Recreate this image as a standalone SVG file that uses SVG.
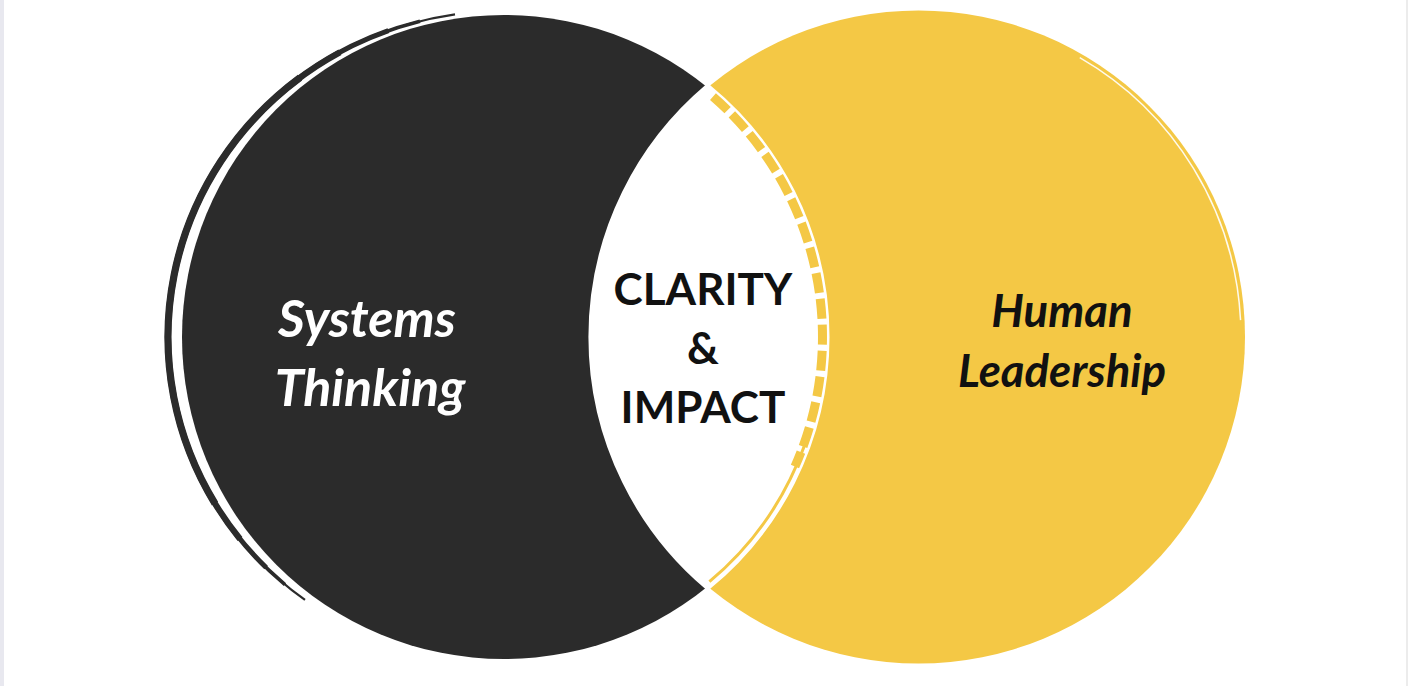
<svg xmlns="http://www.w3.org/2000/svg" width="1408" height="686" viewBox="0 0 1408 686">
  <style>
    .lbl { font-family: Lato, "Noto Sans", "Liberation Sans", sans-serif; text-anchor: middle; }
    .side { font-style: italic; font-weight: 700; }
    .mid { font-weight: 700; font-size: 44px; fill: #111111; }
    .rim { fill: none; stroke: #2b2b2b; stroke-linecap: butt; }
  </style>
  <rect x="0" y="0" width="1408" height="686" fill="#ffffff"/>
  <rect x="0" y="0" width="4" height="686" fill="#e8e8ef"/>
  <rect x="1406" y="0" width="2" height="686" fill="#ececec"/>

  <g id="systems-thinking">
    <circle cx="504" cy="337" r="322" fill="#2b2b2b"/>
    <path class="rim" d="M 455 14.36 A 335 326 0 0 0 305 599.97" stroke-width="2.2" stroke-linecap="round"/>
    <path class="rim" d="M 420 21.16 A 335 326 0 0 0 285 584.53" stroke-width="3.6"/>
    <path class="rim" d="M 388.4 30.67 A 335 326 0 0 0 266.1 567.5" stroke-width="5"/>
    <path class="rim" d="M 340 52.19 A 335 326 0 0 0 240 538.93" stroke-width="6.2"/>
    <path class="rim" d="M 300 77.67 A 335 326 0 0 0 215 503.52" stroke-width="7.2"/>
  </g>

  <g id="human-leadership">
    <circle cx="918.5" cy="337" r="326.5" fill="#f4c845"/>
    <path d="M 1079.75 57.7 A 322.5 322.5 0 0 1 1240.56 320.1" fill="none" stroke="#ffffff" stroke-width="1.5" opacity="0.9"/>
  </g>

  <g id="clarity-impact">
    <path d="M 707.7 87.6 A 322 322 0 0 1 707.7 586.4 A 326.5 326.5 0 0 1 707.7 87.6 Z" fill="#ffffff" stroke="#ffffff" stroke-width="7" stroke-linejoin="miter"/>
    <path d="M 712.96 96.6 A 318.5 318.5 0 0 1 794.95 466.5" fill="none" stroke="#f4c845" stroke-width="9" stroke-dasharray="20 6"/>
    <path d="M 804.2 446.3 A 319.5 319.5 0 0 1 709.4 581.7" fill="none" stroke="#f4c845" stroke-width="3"/>
  </g>

  <g id="labels">
    <text class="lbl side" x="367" y="337" fill="#ffffff" font-size="52">Systems</text>
    <text class="lbl side" x="370" y="406" fill="#ffffff" font-size="52">Thinking</text>
    <text class="lbl mid" x="703" y="305">CLARITY</text>
    <text class="lbl mid" x="703" y="364">&amp;</text>
    <text class="lbl mid" x="703" y="423">IMPACT</text>
    <text class="lbl side" x="1062" y="327" fill="#111111" font-size="45.5">Human</text>
    <text class="lbl side" x="1062" y="387" fill="#111111" font-size="45.5">Leadership</text>
  </g>
</svg>
